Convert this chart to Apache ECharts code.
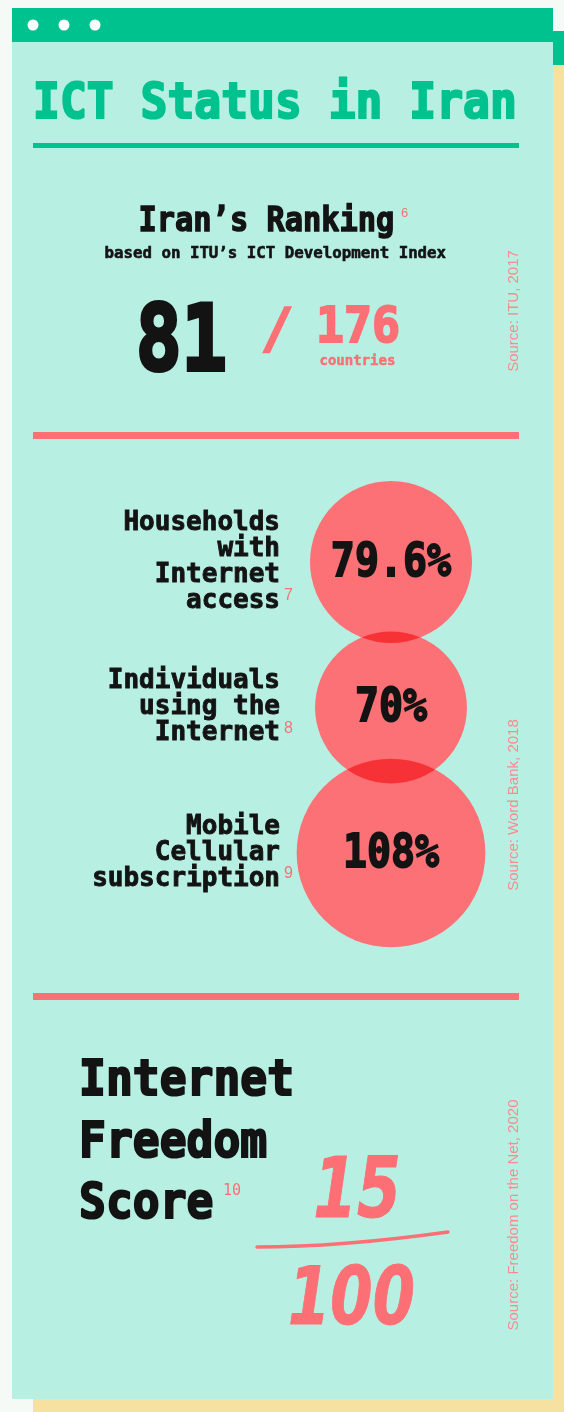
<!DOCTYPE html>
<html><head><meta charset="utf-8">
<script src="https://cdn.jsdelivr.net/npm/echarts@6/dist/echarts.min.js"></script>
<style>html,body{margin:0;padding:0;background:#f5faf6}#c{width:564px;height:1412px}</style>
</head><body><div id="c"></div>
<script>
// ---------- data ----------
const title = 'ICT Status in Iran';
const rankingText = ['Iran’s Ranking', 'based on ITU’s ICT Development Index'];
const ranking = [81, 176];
const rankingNote = '6';
const rankingUnit = 'countries';
const indicatorCategories = ['Households\nwith\nInternet\naccess', 'Individuals\nusing the\nInternet', 'Mobile\nCellular\nsubscription'];
const indicatorValues = [79.6, 70, 108];
const indicatorNotes = ['7', '8', '9'];
const freedomLines = ['Internet', 'Freedom', 'Score'];
const freedomNote = '10';
const freedomScore = [15, 100];
const sources = ['Source: ITU, 2017', 'Source: Word Bank, 2018', 'Source: Freedom on the Net, 2020'];

// ---------- style ----------
const GREEN = '#00c28f', MINT = '#b7f0e3', YELLOW = '#f6e1a1', CORAL = '#fc6f75',
      CIRCLE = '#fb7176', INK = '#131313', SRC = '#f58c8f';
const MONO = '"DejaVu Sans Mono", monospace';
const SANS = '"Liberation Sans", Arial, sans-serif';

function txt(text, x, y, font, fill, o) {
  o = o || {};
  const align = o.align || 'left';
  const style = { text: text, font: font, fill: fill, align: align, textAlign: align,
                  verticalAlign: 'middle', textVerticalAlign: 'middle' };
  if (o.heavy) { style.stroke = fill; style.lineWidth = o.heavy; style.lineJoin = 'round'; }
  return {
    type: 'text', x: x, y: y, silent: true,
    scaleX: o.scaleX || 1, rotation: o.rotation || 0,
    style: style
  };
}
function rect(x, y, w, h, fill) {
  return { type: 'rect', silent: true, shape: { x: x, y: y, width: w, height: h }, style: { fill: fill } };
}

const graphics = [
  rect(33, 31, 545, 1395, YELLOW),
  rect(33, 31, 545, 34, GREEN),
  rect(12, 8, 541, 1391, MINT),
  rect(12, 8, 541, 34, GREEN),
  { type: 'circle', silent: true, shape: { cx: 33, cy: 25, r: 5.5 }, style: { fill: '#fff' } },
  { type: 'circle', silent: true, shape: { cx: 64, cy: 25, r: 5.5 }, style: { fill: '#fff' } },
  { type: 'circle', silent: true, shape: { cx: 95, cy: 25, r: 5.5 }, style: { fill: '#fff' } },
  txt(title, 33, 105, 'bold 50px ' + MONO, GREEN, { scaleX: 0.893, heavy: 2.2 }),
  rect(33, 143, 486, 5, GREEN),

  txt(rankingText[0], 138.5, 222.3, 'bold 33px ' + MONO, INK, { scaleX: 0.92, heavy: 1.4 }),
  txt(rankingNote, 401, 213, '13px ' + SANS, CORAL),
  txt(rankingText[1], 104.5, 253.6, 'bold 16px ' + MONO, INK, { scaleX: 0.985, heavy: 0.6 }),
  txt(String(ranking[0]), 136, 346.3, 'bold 90px ' + MONO, INK, { scaleX: 0.84, heavy: 4 }),
  txt('/', 277, 332, 'bold 56px ' + MONO, CORAL, { align: 'center', heavy: 1.5 }),
  txt(String(ranking[1]), 316, 329.4, 'bold 49px ' + MONO, CORAL, { scaleX: 0.95, heavy: 2 }),
  txt(rankingUnit, 319.5, 361, 'bold 14px ' + MONO, CORAL, { heavy: 0.5 }),

  rect(33, 432, 486, 7, CORAL),
  rect(33, 993, 486, 7, CORAL),

  txt(freedomLines[0], 79, 1082, 'bold 50px ' + MONO, INK, { scaleX: 0.893, heavy: 2.2 }),
  txt(freedomLines[1], 79, 1144, 'bold 50px ' + MONO, INK, { scaleX: 0.893, heavy: 2.2 }),
  txt(freedomLines[2], 79, 1205.5, 'bold 50px ' + MONO, INK, { scaleX: 0.893, heavy: 2.2 }),
  txt(freedomNote, 223, 1191.5, '15px ' + MONO, CORAL),
  txt(String(freedomScore[0]), 357, 1195.4, 'italic bold 84px "DejaVu Sans", sans-serif', CORAL, { align: 'center', scaleX: 0.75, heavy: 1 }),
  { type: 'bezierCurve', silent: true,
    shape: { x1: 257, y1: 1247, x2: 448, y2: 1232, cpx1: 340, cpy1: 1247 },
    style: { stroke: CORAL, lineWidth: 3.5, lineCap: 'round', fill: null } },
  txt(String(freedomScore[1]), 351.5, 1303, 'italic bold 80px "DejaVu Sans", sans-serif', CORAL, { align: 'center', scaleX: 0.76, heavy: 1 }),

  txt(sources[0], 514, 311, '15px ' + SANS, SRC, { align: 'center', rotation: Math.PI / 2 }),
  txt(sources[1], 514, 805, '15px ' + SANS, SRC, { align: 'center', rotation: Math.PI / 2 }),
  txt(sources[2], 514, 1215, '15px ' + SANS, SRC, { align: 'center', rotation: Math.PI / 2 })
];

const pointData = indicatorValues.map((v, i) => [0, i, v]);

const chart = echarts.init(document.getElementById('c'), null, { renderer: 'canvas' });
chart.setOption({
  animation: false,
  backgroundColor: '#f5faf6',
  graphic: graphics,
  grid: { left: 311, top: 489.25, width: 160, height: 436.5, outerBoundsMode: 'none' },
  xAxis: { type: 'category', data: ['Iran'], show: false },
  yAxis: {
    type: 'category', data: indicatorCategories, inverse: true,
    axisLine: { show: false }, axisTick: { show: false }, splitLine: { show: false },
    axisLabel: {
      interval: 0, margin: 18, align: 'right',
      formatter: function (val, idx) {
        const lines = val.split('\n');
        return lines.map((l, i) => i === lines.length - 1
          ? '{t|' + l + '}{n|' + indicatorNotes[idx] + '}'
          : '{t|' + l + '}{g| }').join('\n');
      },
      rich: {
        t: { fontFamily: MONO, fontWeight: 'bold', fontSize: 26, lineHeight: 26, color: INK,
             textBorderColor: INK, textBorderWidth: 0.9 },
        g: { width: 13, lineHeight: 26, fontSize: 13 },
        n: { width: 13, fontFamily: SANS, fontSize: 16, lineHeight: 17, verticalAlign: 'top', color: CORAL }
      }
    }
  },
  series: [
    {
      type: 'scatter', zlevel: 1, z: 2, silent: true, blendMode: 'multiply',
      data: pointData,
      symbol: 'circle',
      symbolSize: function (d) { return Math.sqrt(d[2]) * 18.16; },
      itemStyle: { color: CIRCLE, opacity: 1 },
      emphasis: { disabled: true }
    },
    {
      type: 'custom', zlevel: 1, z: 5, silent: true,
      data: pointData,
      renderItem: function (params, api) {
        const p = api.coord([api.value(0), api.value(1)]);
        return {
          type: 'text', x: p[0], y: p[1] + 1.5, scaleX: 0.85,
          style: { text: api.value(2) + '%', font: 'bold 47px ' + MONO, fill: INK,
                   stroke: INK, lineWidth: 1.8, lineJoin: 'round',
                   align: 'center', textAlign: 'center', verticalAlign: 'middle', textVerticalAlign: 'middle' }
        };
      }
    }
  ]
});
</script></body></html>
